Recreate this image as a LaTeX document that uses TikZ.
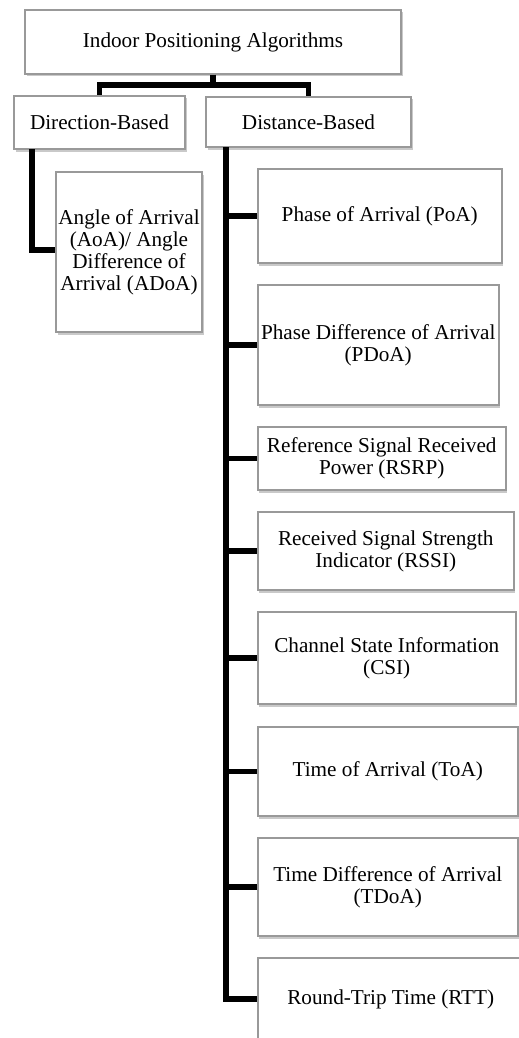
\documentclass[tikz,border=0pt]{standalone}
\usepackage{fontspec}
\setmainfont{Liberation Serif}
\usetikzlibrary{shadows}

\begin{document}
\begin{tikzpicture}[x=1pt, y=-1pt,
  every node/.style = {shape=rectangle, draw=black!40, line width=1.5pt,
    fill=white, align=center, inner sep=0pt,
    font=\fontsize{21.2}{22}\selectfont,
    drop shadow={shadow xshift=1.5pt, shadow yshift=-2.5pt,
      opacity=.3, fill=black!70}},
  leaf/.style = {anchor=west, minimum width=260pt},
  link/.style = {line width=5.5pt, black}]
  \useasboundingbox (0,0) rectangle (519,1038);
  % top levels
  \node [minimum width=376pt, minimum height=64pt] (root) at (213,42)
    {Indoor Positioning Algorithms};
  \node [minimum width=171pt, minimum height=53pt] (dir) at (99.5,122.5)
    {Direction-Based};
  \node [minimum width=205pt, minimum height=50pt] (dist) at (308.5,122)
    {Distance-Based};
  \node [minimum width=146pt, minimum height=160pt] (aoa) at (129,252)
    {Angle of Arrival\\(AoA)/ Angle\\Difference of\\Arrival (ADoA)};
  % distance based leaves
  \node [leaf, minimum width=244pt, minimum height=94pt] (poa) at (257,216)
    {Phase of Arrival (PoA)};
  \node [leaf, minimum width=241pt, minimum height=120pt] (pdoa) at (257,345)
    {Phase Difference of Arrival\\(PDoA)};
  \node [leaf, minimum width=248pt, minimum height=63pt] (rsrp) at (257,458.5)
    {Reference Signal Received\\Power (RSRP)};
  \node [leaf, minimum width=256pt, minimum height=78pt] (rssi) at (257,551)
    {Received Signal Strength\\Indicator (RSSI)};
  \node [leaf, minimum width=258pt, minimum height=92pt] (csi) at (257,658)
    {Channel State Information\\(CSI)};
  \node [leaf, minimum height=89pt] (toa) at (257,771.5)
    {Time of Arrival (ToA)};
  \node [leaf, minimum height=98pt] (tdoa) at (257,887)
    {Time Difference of Arrival\\(TDoA)};
  \node [leaf, minimum width=266pt, minimum height=82pt] (rtt) at (257,999)
    {Round-Trip Time (RTT)};
  % connectors
  \coordinate (fork) at (213,85);
  \coordinate (dirleg) at (32,149);
  \coordinate (spine) at (226,147);
  \draw [link] (root.south) -- (fork) -| (dir.north);
  \draw [link] (fork) -| (dist.north);
  \draw [link] (dirleg) |- ([yshift=2pt]aoa.west);
  \foreach \n in {poa,pdoa,rsrp,rssi,csi,toa,tdoa,rtt}
    \draw [link] (spine) |- (\n.west);
\end{tikzpicture}
\end{document}
